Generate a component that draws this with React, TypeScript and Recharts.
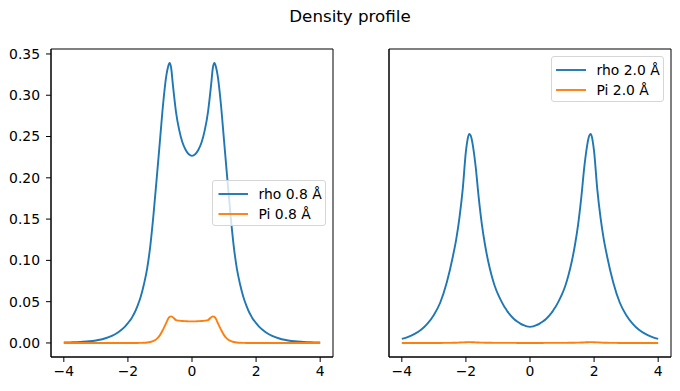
import React from 'react';
import { LineChart, Line, XAxis, YAxis, Legend, ReferenceArea } from 'recharts';

const positions = [-4, -3.8, -3.6, -3.4, -3.2, -3, -2.8, -2.6, -2.4, -2.3, -2.2, -2.1, -2, -1.95, -1.9, -1.85, -1.8, -1.7, -1.6, -1.5, -1.4, -1.3, -1.2, -1.1, -1, -0.9, -0.8, -0.75, -0.7, -0.65, -0.6, -0.5, -0.4, -0.3, -0.2, -0.1, 0,
  0.1, 0.2, 0.3, 0.4, 0.5, 0.6, 0.65, 0.7, 0.75, 0.8, 0.9, 1, 1.1, 1.2, 1.3, 1.4, 1.5, 1.6, 1.7, 1.8, 1.85, 1.9, 1.95, 2, 2.1, 2.2, 2.3, 2.4, 2.6, 2.8, 3, 3.2, 3.4, 3.6, 3.8, 4];

const rhoShort = [0.0005, 0.0007, 0.001, 0.0014, 0.002, 0.003, 0.0045, 0.007, 0.0105, 0.013, 0.016, 0.0195, 0.024, 0.0265, 0.029, 0.0325, 0.036, 0.045, 0.056, 0.071, 0.09, 0.118, 0.156, 0.2, 0.245, 0.29, 0.324, 0.334, 0.339, 0.333, 0.314, 0.28, 0.258, 0.243, 0.234, 0.2285, 0.2266,
  0.2285, 0.234, 0.243, 0.258, 0.28, 0.314, 0.333, 0.339, 0.334, 0.324, 0.29, 0.245, 0.2, 0.156, 0.118, 0.09, 0.071, 0.056, 0.045, 0.036, 0.0325, 0.029, 0.0265, 0.024, 0.0195, 0.016, 0.013, 0.0105, 0.007, 0.0045, 0.003, 0.002, 0.0014, 0.001, 0.0007, 0.0005];

const piShort = [0, 0, 0, 0, 0, 0, 0, 0, 0, 0, 0, 0, 0, 0, 0, 0, 0, 0, 0.0001, 0.0002, 0.0005, 0.0012, 0.0025, 0.005, 0.0095, 0.0165, 0.0245, 0.029, 0.0316, 0.0322, 0.0312, 0.0278, 0.027, 0.0266, 0.0264, 0.0262, 0.0262,
  0.0262, 0.0264, 0.0266, 0.027, 0.0278, 0.0312, 0.0322, 0.0316, 0.029, 0.0245, 0.0165, 0.0095, 0.005, 0.0025, 0.0012, 0.0005, 0.0002, 0.0001, 0, 0, 0, 0, 0, 0, 0, 0, 0, 0, 0, 0, 0, 0, 0, 0, 0, 0, 0];

const rhoLong = [0.005, 0.0075, 0.011, 0.016, 0.0235, 0.034, 0.049, 0.073, 0.106, 0.126, 0.152, 0.186, 0.232, 0.246, 0.253, 0.251, 0.243, 0.215, 0.176, 0.143, 0.118, 0.098, 0.082, 0.069, 0.059, 0.051, 0.044, 0.041, 0.038, 0.0355, 0.033, 0.029, 0.026, 0.0235, 0.0215, 0.02, 0.0195,
  0.02, 0.0215, 0.0235, 0.026, 0.029, 0.033, 0.0355, 0.038, 0.041, 0.044, 0.051, 0.059, 0.069, 0.082, 0.098, 0.118, 0.143, 0.176, 0.215, 0.243, 0.251, 0.253, 0.246, 0.232, 0.186, 0.152, 0.126, 0.106, 0.073, 0.049, 0.034, 0.0235, 0.016, 0.011, 0.0075, 0.005];

const piLong = [0, 0, 0, 0, 0, 0, 0, 0.0001, 0.0002, 0.0003, 0.0005, 0.0007, 0.0009, 0.001, 0.001, 0.001, 0.0009, 0.0007, 0.0005, 0.0004, 0.0003, 0.0002, 0.0002, 0.0001, 0.0001, 0.0001, 0.0001, 0.0001, 0.0001, 0.0001, 0.0001, 0.0001, 0, 0, 0, 0, 0,
  0, 0, 0, 0, 0.0001, 0.0001, 0.0001, 0.0001, 0.0001, 0.0001, 0.0001, 0.0001, 0.0001, 0.0002, 0.0002, 0.0003, 0.0004, 0.0005, 0.0007, 0.0009, 0.001, 0.001, 0.001, 0.0009, 0.0007, 0.0005, 0.0003, 0.0002, 0.0001, 0, 0, 0, 0, 0, 0, 0];

const xTicks = [-4, -2, 0, 2, 4];
const yTicks = [0, 0.05, 0.1, 0.15, 0.2, 0.25, 0.3, 0.35];
const shortNames = ['rho 0.8 Å', 'Pi 0.8 Å'];
const longNames = ['rho 2.0 Å', 'Pi 2.0 Å'];
const title = 'Density profile';

const FONT = '"DejaVu Sans", sans-serif';
const BLUE = '#1f77b4';
const ORANGE = '#ff7f0e';
const COLORS = [BLUE, ORANGE];
const X_DOMAIN: [number, number] = [-4.4, 4.4];
const Y_DOMAIN: [number, number] = [-0.017, 0.356];
const FS = 13.9;

const shortData = positions.map((x, i) => ({ x, rho: rhoShort[i], pi: piShort[i] }));
const longData = positions.map((x, i) => ({ x, rho: rhoLong[i], pi: piLong[i] }));

const fmtX = (v: number) => (v < 0 ? '\u2212' + Math.abs(v) : String(v));
const fmtY = (v: number) => v.toFixed(2);

const makeLegend = (names: string[], lineX0: number, lineX1: number, textX: number) => () => (
  <div style={{ position: 'relative', width: '100%', height: '100%', boxSizing: 'border-box', border: '1px solid #d6d6d6', borderRadius: 3, background: 'rgba(255,255,255,0.8)', fontFamily: FONT, fontSize: FS, color: '#000' }}>
    {names.map((n, i) => (
      <div key={i} style={{ position: 'absolute', left: 0, top: 13.3 + i * 20 - 9, height: 18, width: '100%' }}>
        <svg width={lineX1 + 2} height={18} style={{ position: 'absolute', left: 0, top: 0 }}>
          <line x1={lineX0} x2={lineX1} y1={9} y2={9} stroke={COLORS[i]} strokeWidth={1.9} />
        </svg>
        <span style={{ position: 'absolute', left: textX, top: 0, lineHeight: '18px', whiteSpace: 'nowrap' }}>{n}</span>
      </div>
    ))}
  </div>
);

const tickStyle = { fill: '#000', fontSize: FS, fontFamily: FONT };

function Panel({ data, names, showY, legendBox, legendLine }: any) {
  return (
    <LineChart width={340} height={391} data={data} margin={{ top: 49, right: showY ? 7 : 9, bottom: 0, left: 0 }}>
      <ReferenceArea x1={X_DOMAIN[0]} x2={X_DOMAIN[1]} y1={Y_DOMAIN[0]} y2={Y_DOMAIN[1]} fill="none" stroke="#000" strokeWidth={1} ifOverflow="visible" />
      <XAxis dataKey="x" type="number" domain={X_DOMAIN} ticks={xTicks} tickFormatter={fmtX} allowDataOverflow height={34}
        axisLine={{ stroke: '#000' }} tickLine={{ stroke: '#000' }} tickSize={5} tickMargin={4} tick={tickStyle} interval={0} />
      <YAxis type="number" domain={Y_DOMAIN} ticks={yTicks} tickFormatter={fmtY} allowDataOverflow width={showY ? 51 : 49}
        axisLine={{ stroke: '#000' }} tickLine={{ stroke: '#000' }} tickSize={5} tickMargin={6}
        tick={showY ? tickStyle : false} interval={0} />
      <Line type="monotone" dataKey="rho" name={names[0]} stroke={BLUE} strokeWidth={1.9} dot={false} isAnimationActive={false} />
      <Line type="monotone" dataKey="pi" name={names[1]} stroke={ORANGE} strokeWidth={1.9} dot={false} isAnimationActive={false} />
      <Legend layout="horizontal" verticalAlign="middle" align="center"
        wrapperStyle={{ position: 'absolute', left: legendBox[0], top: legendBox[1], width: legendBox[2], height: legendBox[3], margin: 0, padding: 0 }}
        content={makeLegend(names, legendLine[0], legendLine[1], legendLine[2])} />
    </LineChart>
  );
}

export default function App() {
  return (
    <div style={{ position: 'absolute', left: 0, top: 0, width: 680, height: 391, background: '#fff', fontFamily: FONT }}>
      <div style={{ position: 'absolute', left: 0, top: 6, width: 700, textAlign: 'center', fontSize: 16.7, color: '#000', fontFamily: FONT }}>{title}</div>
      <div style={{ position: 'absolute', left: 0, top: 0 }}>
        <Panel data={shortData} names={shortNames} showY legendBox={[212, 180, 114, 46]} legendLine={[5.5, 35, 45.5]} />
      </div>
      <div style={{ position: 'absolute', left: 340, top: 0 }}>
        <Panel data={longData} names={longNames} showY={false} legendBox={[211, 56, 113, 46]} legendLine={[4, 34, 44.5]} />
      </div>
    </div>
  );
}
